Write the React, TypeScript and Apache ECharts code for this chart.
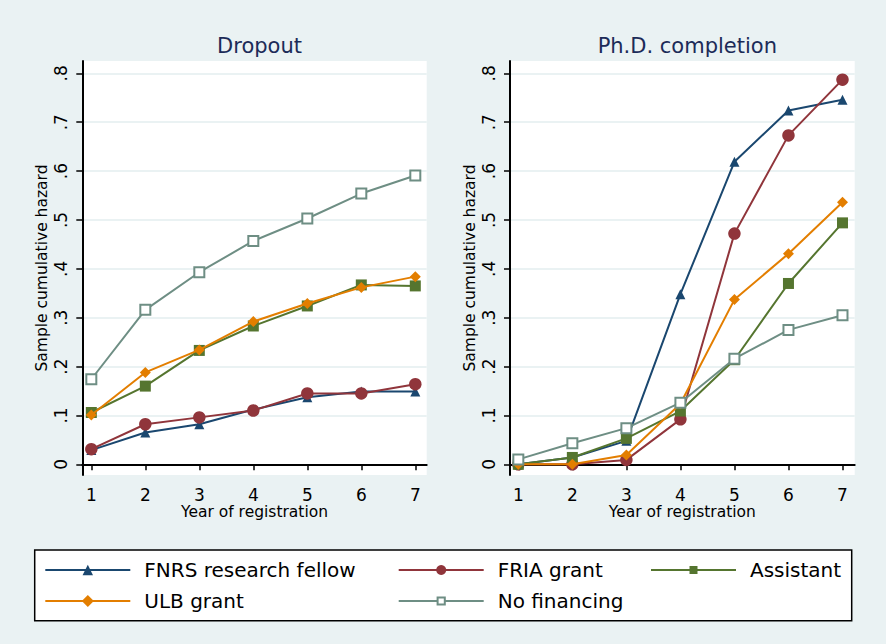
import React, { useEffect, useRef } from "react";
import * as echarts from "echarts";

const years = [1, 2, 3, 4, 5, 6, 7];
const yTickValues = [0, 0.1, 0.2, 0.3, 0.4, 0.5, 0.6, 0.7, 0.8];
const yTickLabels = ["0", ".1", ".2", ".3", ".4", ".5", ".6", ".7", ".8"];

const seriesNames = ["FNRS research fellow", "FRIA grant", "Assistant", "ULB grant", "No financing"];

const dropoutFNRS = [0.029, 0.065, 0.082, 0.112, 0.137, 0.149, 0.149];
const dropoutFRIA = [0.031, 0.082, 0.096, 0.110, 0.145, 0.145, 0.164];
const dropoutAssistant = [0.106, 0.160, 0.233, 0.283, 0.324, 0.367, 0.365];
const dropoutULB = [0.101, 0.188, 0.234, 0.292, 0.329, 0.362, 0.384];
const dropoutNone = [0.174, 0.316, 0.393, 0.457, 0.503, 0.554, 0.591];

const phdFNRS = [0, 0.014, 0.048, 0.348, 0.619, 0.724, 0.746];
const phdFRIA = [0, 0, 0.009, 0.092, 0.472, 0.673, 0.787];
const phdAssistant = [0, 0.014, 0.053, 0.109, 0.214, 0.370, 0.494];
const phdULB = [0, 0, 0.019, 0.124, 0.337, 0.431, 0.536];
const phdNone = [0.010, 0.043, 0.074, 0.126, 0.216, 0.275, 0.305];

const FONT = "DejaVu Sans";
const BG = "#eaf2f3";

const styles = [
  { color: "#1a476f", symbol: "triangle", size: 10, legendH: 13, hollow: false },
  { color: "#90353b", symbol: "circle", size: 12.5, legendH: 12.5, hollow: false },
  { color: "#55752f", symbol: "rect", size: 11, legendH: 10, hollow: false },
  { color: "#e37e00", symbol: "diamond", size: 11, legendH: 15, hollow: false },
  { color: "#6e8e84", symbol: "rect", size: 10, legendH: 9, hollow: true },
];

function makeSeries(values: number[][], gridIdx: number) {
  return values.map((vals, i) => {
    const st = styles[i];
    return {
      type: "line",
      name: seriesNames[i],
      xAxisIndex: gridIdx,
      yAxisIndex: gridIdx,
      data: years.map((x, k) => [x, vals[k]]),
      symbol: st.symbol,
      symbolSize: st.size,
      showAllSymbol: true,
      lineStyle: { color: st.color, width: 2 },
      itemStyle: st.hollow
        ? { color: "#ffffff", borderColor: st.color, borderWidth: 2 }
        : { color: st.color, borderWidth: 0 },
      emphasis: { disabled: true },
      z: 3 + i,
    };
  });
}

function xAxisFor(gridIndex: number, min: number, max: number) {
  return {
    type: "value",
    gridIndex,
    min,
    max,
    name: "Year of registration",
    nameLocation: "middle",
    nameGap: 29,
    nameMoveOverlap: false,
    nameTextStyle: { fontFamily: FONT, fontSize: 15.5, color: "#000" },
    axisLine: { show: true, lineStyle: { color: "#000", width: 2 } },
    axisTick: { show: true, customValues: years, length: 6, lineStyle: { color: "#000", width: 1.5 } },
    axisLabel: {
      show: true,
      customValues: years,
      margin: 11,
      fontFamily: FONT,
      fontSize: 17,
      color: "#000",
      formatter: (v: number) => String(v),
    },
    splitLine: { show: false },
  };
}

function yAxisFor(gridIndex: number) {
  return {
    type: "value",
    gridIndex,
    min: -0.0219,
    max: 0.8252,
    name: "Sample cumulative hazard",
    nameLocation: "middle",
    nameGap: 32,
    nameMoveOverlap: false,
    nameTextStyle: { fontFamily: FONT, fontSize: 15.5, color: "#000" },
    axisLine: { show: true, lineStyle: { color: "#000", width: 2 } },
    axisTick: { show: true, customValues: yTickValues, length: 6, lineStyle: { color: "#000", width: 1.5 } },
    axisLabel: {
      show: true,
      customValues: yTickValues,
      rotate: 90,
      margin: 13,
      fontFamily: FONT,
      fontSize: 17,
      color: "#000",
      formatter: (v: number) => {
        const idx = yTickValues.findIndex((t) => Math.abs(t - v) < 1e-6);
        return idx >= 0 ? yTickLabels[idx] : "";
      },
    },
    splitLine: { show: true, lineStyle: { color: BG, width: 2 } },
  };
}

function legendFor(i: number, left: number, top: number) {
  return {
    show: true,
    data: [seriesNames[i]],
    left,
    top,
    padding: 0,
    itemWidth: 85,
    itemHeight: styles[i].legendH,
    selectedMode: false,
    textStyle: { fontFamily: FONT, fontSize: 20, color: "#000", padding: [0, 0, 0, 9] },
  };
}

export default function App() {
  const ref = useRef<HTMLDivElement>(null);
  useEffect(() => {
    document.body.style.margin = "0";
    if (!ref.current) return;
    const chart = echarts.init(ref.current, null, { renderer: "svg" });
    chart.setOption({
      animation: false,
      backgroundColor: BG,
      title: [
        {
          text: "Dropout",
          left: 254.5,
          top: 30,
          textAlign: "center",
          textStyle: { fontFamily: FONT, fontSize: 21, fontWeight: "normal", color: "#1c2b58" },
        },
        {
          text: "Ph.D. completion",
          left: 682.3,
          top: 30,
          textAlign: "center",
          textStyle: { fontFamily: FONT, fontSize: 21, fontWeight: "normal", color: "#1c2b58" },
        },
      ],
      grid: [
        { left: 82.3, right: 886 - 426.7, top: 61, bottom: 644 - 475, show: true, backgroundColor: "#fff", borderWidth: 0 },
        { left: 510, right: 886 - 854.7, top: 61, bottom: 644 - 475, show: true, backgroundColor: "#fff", borderWidth: 0 },
      ],
      xAxis: [xAxisFor(0, 0.833, 7.211), xAxisFor(1, 0.846, 7.226)],
      yAxis: [yAxisFor(0), yAxisFor(1)],
      legend: [
        legendFor(0, 44.3, 560),
        legendFor(1, 397.7, 560),
        legendFor(2, 650, 560),
        legendFor(3, 44.3, 591),
        legendFor(4, 397.7, 591),
      ],
      graphic: [
        {
          type: "rect",
          z: -1,
          shape: { x: 34.7, y: 550, width: 817, height: 70.7 },
          style: { fill: "#fff", stroke: "#000", lineWidth: 1.5 },
          silent: true,
        },
      ],
      series: [
        ...makeSeries([dropoutFNRS, dropoutFRIA, dropoutAssistant, dropoutULB, dropoutNone], 0),
        ...makeSeries([phdFNRS, phdFRIA, phdAssistant, phdULB, phdNone], 1),
      ],
    });
    return () => chart.dispose();
  }, []);
  return <div ref={ref} style={{ width: 886, height: 644, background: BG }} />;
}
